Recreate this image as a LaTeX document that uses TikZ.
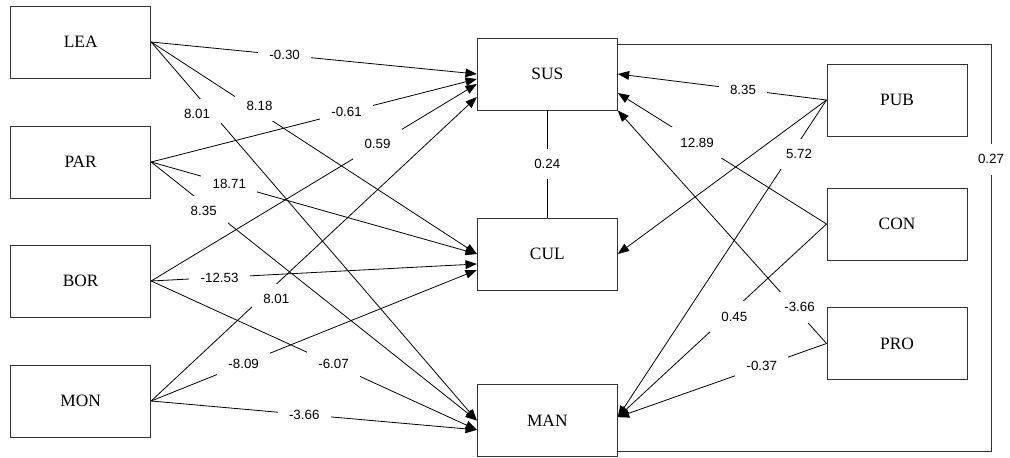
\documentclass[tikz,border=0pt]{standalone}
\usepackage{fontspec}
\setmainfont{Liberation Serif}
\newfontfamily\lblfont{Liberation Sans}
\usetikzlibrary{arrows.meta}

\begin{document}
\begin{tikzpicture}[x=0.75pt,y=-0.75pt]
\tikzstyle{every node}+=[inner sep=0pt]
\tikzstyle{box}=[draw=black!80, line width=0.7pt, minimum width=105pt, minimum height=54pt, font=\fontsize{13}{15}\selectfont]
\tikzstyle{lbl}=[fill=white, inner xsep=8.5pt, inner ysep=8pt, font=\lblfont\fontsize{10}{12}\selectfont]
\tikzstyle{arr}=[-{Triangle[length=8.5pt,width=6.5pt]}, line width=0.6pt]
\useasboundingbox (0,0) rectangle (1010,457);
\node [box] (LEA) at (80.7,42) {LEA};
\node [box] (PAR) at (80.7,162) {PAR};
\node [box] (BOR) at (80.7,281) {BOR};
\node [box] (MON) at (80.7,401) {MON};
\node [box] (SUS) at (547.3,74) {SUS};
\node [box] (CUL) at (547.3,254) {CUL};
\node [box] (MAN) at (547.3,420.5) {MAN};
\node [box] (PUB) at (897,100) {PUB};
\node [box] (CON) at (897,224) {CON};
\node [box] (PRO) at (897,343.5) {PRO};
\coordinate (frtop) at (991,44);
\coordinate (frbot) at (991,451);
\draw [arr] (LEA.east) -- node [lbl, pos=0.41] {-0.30} (SUS.west);
\draw [arr] (LEA.east) -- node [lbl, pos=0.3, xshift=8pt] {8.18} (CUL.west);
\draw [arr] (LEA.east) -- node [lbl, pos=0.19, xshift=-12pt] {8.01} (MAN.west);
\draw [arr] (PAR.east) -- node [lbl, pos=0.6] {-0.61} ([yshift=-3.75pt]SUS.west);
\draw [arr] (PAR.east) -- node [lbl, pos=0.24] {18.71} (CUL.west);
\draw [arr] (PAR.east) -- node [lbl, pos=0.19, xshift=-7pt] {8.35} (MAN.west);
\draw [arr] (BOR.east) -- node [lbl, pos=0.695] {0.59} ([yshift=-7.5pt]SUS.west);
\draw [arr] (BOR.east) -- node [lbl, pos=0.21] {-12.53} ([yshift=-7.5pt]CUL.west);
\draw [arr] (BOR.east) -- node [lbl, pos=0.56] {-6.07} ([yshift=-7pt]MAN.west);
\draw [arr] (MON.east) -- node [lbl, pos=0.335, xshift=12pt] {8.01} ([yshift=-17.25pt]SUS.west);
\draw [arr] (MON.east) -- node [lbl, pos=0.284] {-8.09} ([yshift=-12pt]CUL.west);
\draw [arr] (MON.east) -- node [lbl, pos=0.47] {-3.66} ([yshift=-7pt]MAN.west);
\draw [arr] (PUB.west) -- (CUL.east);
\draw [arr] (PUB.west) -- node [lbl, pos=0.4] {8.35} (SUS.east);
\draw [arr] (PUB.west) -- node [lbl, pos=0.17, xshift=6pt] {5.72} ([yshift=2.5pt]MAN.east);
\draw [arr] (CON.west) -- node [lbl, pos=0.62] {12.89} ([yshift=-14.25pt]SUS.east);
\draw [arr] (CON.west) -- node [lbl, pos=0.48, xshift=6pt] {0.45} ([yshift=2.5pt]MAN.east);
\draw [arr] (PRO.west) -- node [lbl, pos=0.155, xshift=4pt] {-3.66} (SUS.south east);
\draw [arr] (PRO.west) -- node [lbl, pos=0.31] {-0.37} ([yshift=2.5pt]MAN.east);
\draw [line width=0.6pt] (SUS.south) -- node [lbl] {0.24} (CUL.north);
\draw [draw=black!80, line width=0.6pt] (SUS.east |- frtop) -- (frtop) -- node [lbl, pos=0.283] {0.27} (frbot) -- (MAN.east |- frbot);
\end{tikzpicture}
\end{document}
